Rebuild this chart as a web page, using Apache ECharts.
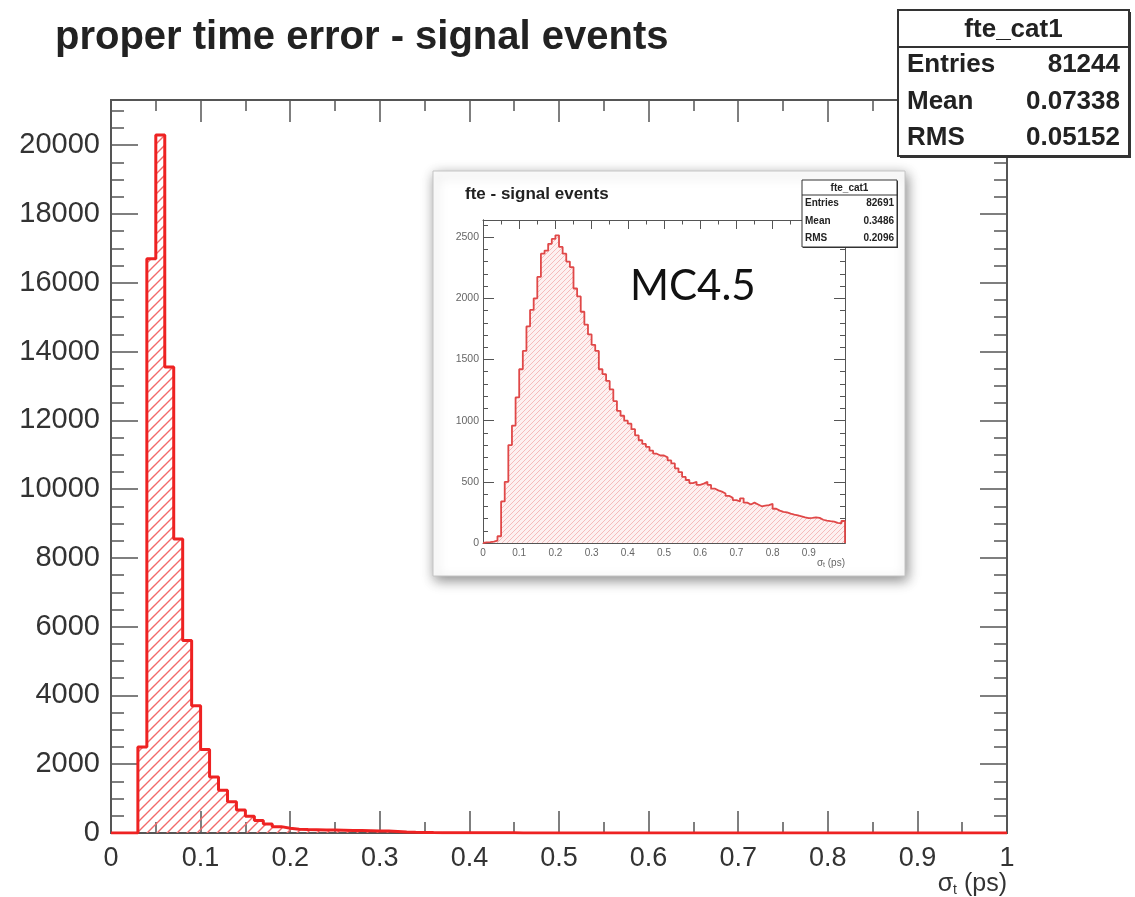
<!DOCTYPE html>
<html><head><meta charset="utf-8">
<script src="https://cdn.jsdelivr.net/npm/echarts@6/dist/echarts.min.js"></script>
<style>html,body{margin:0;padding:0;background:#fff}#c{width:1135px;height:897px}</style>
</head><body><div id="c"></div>
<script>
// ---------------- data ----------------
const mainTitle = 'proper time error - signal events';
const binLow = 0, binWidth = 0.01;
// main histogram: counts per 0.01 bin from 0 to 1
const mainCounts = [
  0, 0, 0, 2500, 16700, 20300, 13550, 8550, 5600, 3700,
  2430, 1630, 1240, 910, 670, 490, 360, 260, 185, 140,
  110, 100, 95, 90, 85, 80, 75, 70, 65, 60,
  55, 45, 30, 20, 15, 12, 10, 8, 7, 6,
  5, 5, 4, 4, 4, 3, 3, 3, 3, 2,
  2, 2, 2, 2, 1, 1, 1, 1, 1, 1,
  1, 1, 1, 1, 1, 1, 1, 1, 1, 1,
  1, 1, 1, 1, 1, 1, 1, 1, 1, 1,
  1, 1, 1, 1, 1, 1, 1, 1, 1, 1,
  1, 1, 1, 1, 1, 1, 1, 1, 1, 1
];
// inset histogram (MC4.5): counts per 0.01 bin from 0 to 1
const insetCounts = [
  5, 8, 12, 20, 55, 340, 500, 800, 960, 1190,
  1420, 1570, 1770, 1905, 2000, 2175, 2365, 2390, 2445, 2485,
  2515, 2420, 2365, 2300, 2255, 2080, 2015, 1890, 1785, 1705,
  1620, 1570, 1420, 1380, 1325, 1255, 1160, 1080, 1040, 1000,
  975, 930, 880, 840, 810, 785, 755, 730, 715, 715,
  700, 675, 650, 610, 580, 540, 515, 490, 500, 475,
  485, 500, 475, 445, 430, 420, 405, 385, 370, 350,
  340, 365, 330, 315, 330, 315, 300, 305, 310, 320,
  280, 265, 255, 250, 240, 232, 225, 218, 210, 203,
  206, 210, 205, 190, 182, 178, 175, 165, 160, 180
];
const mainYMax = 21315, mainYStep = 2000, mainYMinorStep = 500;
const insetYMax = 2640, insetYStep = 500, insetYMinorStep = 100;
const xMin = 0, xMax = 1, xStep = 0.1;
const mainStats = { name: 'fte_cat1', rows: [['Entries', '81244'], ['Mean', '0.07338'], ['RMS', '0.05152']] };
const insetStats = { name: 'fte_cat1', rows: [['Entries', '82691'], ['Mean', '0.3486'], ['RMS', '0.2096']] };
const insetTitle = 'fte - signal events';
const insetLabel = 'MC4.5';
const xAxisTitle = { sym: 'σ', sub: 't', unit: ' (ps)' };

// ---------------- helpers ----------------
function outline(counts) {
  const pts = [[binLow, 0]];
  counts.forEach((v, i) => {
    pts.push([binLow + i * binWidth, v], [binLow + (i + 1) * binWidth, v]);
  });
  pts.push([binLow + counts.length * binWidth, 0]);
  return pts;
}
function hatch(size, color, lw, bg) {
  const c = document.createElement('canvas');
  c.width = c.height = size;
  const g = c.getContext('2d');
  if (bg) { g.fillStyle = bg; g.fillRect(0, 0, size, size); }
  g.strokeStyle = color; g.lineWidth = lw;
  g.beginPath();
  g.moveTo(0, size); g.lineTo(size, 0);
  g.moveTo(-size / 2, size / 2); g.lineTo(size / 2, -size / 2);
  g.moveTo(size / 2, size * 1.5); g.lineTo(size * 1.5, size / 2);
  g.stroke();
  return c;
}
const FONT = '"Liberation Sans", Arial, Helvetica, sans-serif';
const AX = '#555';
const plain = v => String(Math.round(v * 1000) / 1000);

function xAx(grid, pos, labels, o) {
  return {
    type: 'value', gridIndex: grid, position: pos, min: xMin, max: xMax, interval: xStep, z: o.z,
    axisLine: { show: true, onZero: false, lineStyle: { color: AX, width: o.lw } },
    axisTick: { show: true, inside: true, length: o.tick, lineStyle: { color: AX, width: o.tw } },
    minorTick: { show: true, splitNumber: 2, length: o.tick / 2, lineStyle: { color: AX, width: o.tw } },
    splitLine: { show: false },
    axisLabel: labels ? { show: true, fontSize: o.fs, color: o.lc, fontFamily: FONT, margin: o.margin, showMaxLabel: o.showMax, formatter: plain } : { show: false }
  };
}
function yAx(grid, pos, max, step, len, labels, o) {
  return {
    type: 'value', gridIndex: grid, position: pos, min: 0, max: max, interval: step, z: o.z,
    axisLine: { show: true, onZero: false, lineStyle: { color: AX, width: o.lw } },
    axisTick: { show: true, inside: true, length: len, lineStyle: { color: AX, width: o.tw } },
    splitLine: { show: false },
    axisLabel: labels ? { show: true, fontSize: o.fs, color: o.lc, fontFamily: FONT, margin: o.margin, showMaxLabel: false, formatter: plain } : { show: false }
  };
}
function statsBox(s, x, y, w, h, headH, fs, pad, z, lw, shadow) {
  const ch = [];
  if (shadow) ch.push({ type: 'rect', shape: { x: x + shadow, y: y + shadow, width: w, height: h }, style: { fill: '#333' }, z: z });
  ch.push({ type: 'rect', shape: { x: x, y: y, width: w, height: h }, style: { fill: '#fff', stroke: '#333', lineWidth: lw }, z: z + 1 });
  ch.push({ type: 'line', shape: { x1: x, y1: y + headH, x2: x + w, y2: y + headH }, style: { stroke: '#333', lineWidth: lw }, z: z + 2 });
  ch.push({ type: 'text', x: x + w / 2, y: y + headH / 2 + 1, style: { text: s.name, font: 'bold ' + fs + 'px ' + FONT, fill: '#222', align: 'center', verticalAlign: 'middle' }, z: z + 2 });
  const rowH = (h - headH) / s.rows.length;
  s.rows.forEach((r, i) => {
    const cy = y + headH + rowH * (i + 0.5);
    ch.push({ type: 'text', x: x + pad, y: cy, style: { text: r[0], font: 'bold ' + fs + 'px ' + FONT, fill: '#222', align: 'left', verticalAlign: 'middle' }, z: z + 2 });
    ch.push({ type: 'text', x: x + w - pad, y: cy, style: { text: r[1], font: 'bold ' + fs + 'px ' + FONT, fill: '#222', align: 'right', verticalAlign: 'middle' }, z: z + 2 });
  });
  return ch;
}

const mainO = { z: 1, lw: 2, tw: 1.5, fs: 27, lc: '#333', margin: 12, showMax: true };
const mainYO = { z: 1, lw: 2, tw: 1.5, fs: 29, lc: '#333', margin: 11 };
const insO = { z: 8, lw: 1, tw: 1, fs: 10, lc: '#666', margin: 5, showMax: false };
const insYO = { z: 8, lw: 1, tw: 1, fs: 10.5, lc: '#666', margin: 4 };

const chart = echarts.init(document.getElementById('c'), null, { renderer: 'canvas' });
chart.setOption({
  animation: false,
  backgroundColor: '#fff',
  title: [
    { text: mainTitle, left: 50, top: 13, textStyle: { fontSize: 40, fontWeight: 'bold', color: '#222', fontFamily: FONT } },
    { text: insetTitle, left: 460, top: 181, z: 20, textStyle: { fontSize: 17, fontWeight: 'bold', color: '#222', fontFamily: FONT } }
  ],
  grid: [
    { left: 111, top: 100, width: 896, height: 733 },
    { left: 483, top: 220, width: 362, height: 323 }
  ],
  xAxis: [
    xAx(0, 'bottom', true, Object.assign({ tick: 22 }, mainO)),
    xAx(0, 'top', false, Object.assign({ tick: 22 }, mainO)),
    xAx(1, 'bottom', true, Object.assign({ tick: 9 }, insO)),
    xAx(1, 'top', false, Object.assign({ tick: 9 }, insO))
  ],
  yAxis: [
    yAx(0, 'left', mainYMax, mainYStep, 27, true, mainYO),
    yAx(0, 'left', mainYMax, mainYMinorStep, 13, false, mainYO),
    yAx(0, 'right', mainYMax, mainYStep, 27, false, mainYO),
    yAx(0, 'right', mainYMax, mainYMinorStep, 13, false, mainYO),
    yAx(1, 'left', insetYMax, insetYStep, 11, true, insYO),
    yAx(1, 'left', insetYMax, insetYMinorStep, 5, false, insYO),
    yAx(1, 'right', insetYMax, insetYStep, 11, false, insYO),
    yAx(1, 'right', insetYMax, insetYMinorStep, 5, false, insYO)
  ],
  series: [
    {
      type: 'line', xAxisIndex: 0, yAxisIndex: 0, data: outline(mainCounts), showSymbol: false, z: 3,
      lineStyle: { color: '#ee2222', width: 3 },
      areaStyle: { color: { image: hatch(10, '#f26a6a', 1.4), repeat: 'repeat' }, opacity: 1 }
    },
    {
      type: 'line', xAxisIndex: 2, yAxisIndex: 4, data: outline(insetCounts), showSymbol: false, z: 9,
      lineStyle: { color: '#e04848', width: 1.8 },
      areaStyle: { color: { image: hatch(5, '#f5bcbc', 1, '#fdf1f1'), repeat: 'repeat' }, opacity: 1 }
    }
  ],
  graphic: [
    { type: 'rect', z: 5, shape: { x: 433, y: 171, width: 472, height: 405 },
      style: { fill: '#fff', stroke: '#c4c4c4', lineWidth: 1, shadowBlur: 12, shadowOffsetX: 2, shadowOffsetY: 4, shadowColor: 'rgba(0,0,0,0.45)' } },
    ...statsBox(mainStats, 898, 10, 231, 146, 37, 26, 9, 20, 2, 2),
    ...statsBox(insetStats, 802, 180, 95, 67, 15, 10, 3, 20, 1, 1),
    { type: 'text', z: 20, x: 630, y: 286, style: { text: insetLabel, font: '42px Lato, "Open Sans", sans-serif', fill: '#111', align: 'left', verticalAlign: 'middle' } },
    { type: 'text', z: 20, x: 1007, y: 884, style: {
        text: '{s|' + xAxisTitle.sym + '}{b|' + xAxisTitle.sub + '}{s|' + xAxisTitle.unit + '}', align: 'right', verticalAlign: 'middle',
        rich: { s: { fontSize: 25, fontFamily: FONT, fill: '#333' }, b: { fontSize: 14, fontFamily: FONT, fill: '#333', padding: [12, 0, 0, 0] } } } },
    { type: 'text', z: 20, x: 845, y: 563, style: {
        text: '{s|' + xAxisTitle.sym + '}{b|' + xAxisTitle.sub + '}{s|' + xAxisTitle.unit + '}', align: 'right', verticalAlign: 'middle',
        rich: { s: { fontSize: 10, fontFamily: FONT, fill: '#666' }, b: { fontSize: 7, fontFamily: FONT, fill: '#666', padding: [4, 0, 0, 0] } } } }
  ]
});
</script>
</body></html>
